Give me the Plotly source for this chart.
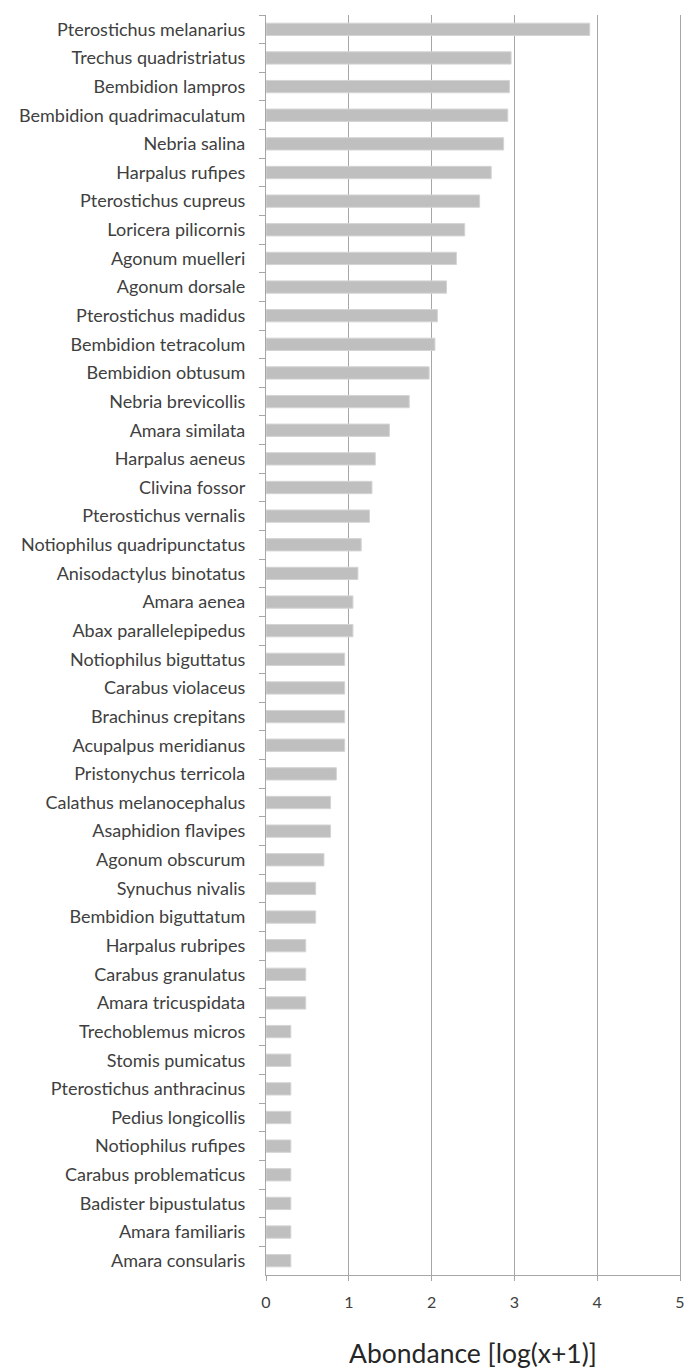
import plotly.graph_objects as go

species = [
    "Pterostichus melanarius", "Trechus quadristriatus", "Bembidion lampros",
    "Bembidion quadrimaculatum", "Nebria salina", "Harpalus rufipes",
    "Pterostichus cupreus", "Loricera pilicornis", "Agonum muelleri",
    "Agonum dorsale", "Pterostichus madidus", "Bembidion tetracolum",
    "Bembidion obtusum", "Nebria brevicollis", "Amara similata",
    "Harpalus aeneus", "Clivina fossor", "Pterostichus vernalis",
    "Notiophilus quadripunctatus", "Anisodactylus binotatus", "Amara aenea",
    "Abax parallelepipedus", "Notiophilus biguttatus", "Carabus violaceus",
    "Brachinus crepitans", "Acupalpus meridianus", "Pristonychus terricola",
    "Calathus melanocephalus", "Asaphidion flavipes", "Agonum obscurum",
    "Synuchus nivalis", "Bembidion biguttatum", "Harpalus rubripes",
    "Carabus granulatus", "Amara tricuspidata", "Trechoblemus micros",
    "Stomis pumicatus", "Pterostichus anthracinus", "Pedius longicollis",
    "Notiophilus rufipes", "Carabus problematicus", "Badister bipustulatus",
    "Amara familiaris", "Amara consularis",
]

abundance = [
    3.91, 2.96, 2.94, 2.92, 2.87, 2.72, 2.58, 2.40, 2.30, 2.18,
    2.07, 2.04, 1.97, 1.73, 1.49, 1.32, 1.28, 1.25, 1.15, 1.11,
    1.05, 1.05, 0.95, 0.95, 0.95, 0.95, 0.85, 0.78, 0.78, 0.70,
    0.60, 0.60, 0.48, 0.48, 0.48, 0.30, 0.30, 0.30, 0.30, 0.30,
    0.30, 0.30, 0.30, 0.30,
]

x_ticks = [0, 1, 2, 3, 4, 5]
x_title = "Abondance [log(x+1)]"

FONT = "Lato, 'Open Sans', sans-serif"
TXT = "#404040"
GRID = "#a6a6a6"

fig = go.Figure(go.Bar(
    x=abundance,
    y=species,
    orientation="h",
    marker=dict(color="#bfbfbf", line=dict(color="#d4d4d4", width=1)),
    hoverinfo="x+y",
))

fig.update_layout(
    width=684,
    height=1369,
    margin=dict(l=266, r=4, t=15, b=94, autoexpand=False),
    paper_bgcolor="white",
    plot_bgcolor="white",
    bargap=0.57,
    showlegend=False,
    font=dict(family=FONT, color=TXT),
)

fig.update_xaxes(
    range=[0, 5],
    tickmode="array",
    tickvals=x_ticks,
    ticktext=[str(t) for t in x_ticks],
    showgrid=True,
    gridcolor=GRID,
    gridwidth=1.3,
    zeroline=False,
    showline=True,
    linecolor=GRID,
    linewidth=1.3,
    ticks="outside",
    ticklen=5,
    tickcolor=GRID,
    ticklabelstandoff=8,
    ticklabeloverflow="allow",
    tickfont=dict(size=16, color=TXT, family=FONT),
    automargin=False,
    title=dict(text=x_title, font=dict(size=26.5, color="#262626", family=FONT), standoff=35),
)

fig.update_yaxes(
    type="category",
    autorange="reversed",
    showgrid=False,
    zeroline=False,
    showline=True,
    mirror=True,
    linecolor=GRID,
    linewidth=1.3,
    ticks="outside",
    tickson="boundaries",
    ticklen=6,
    tickcolor=GRID,
    automargin=False,
    tickfont=dict(size=18, color=TXT, family=FONT),
    ticklabelstandoff=16,
)

fig.write_html(
    "out.html",
    config={"displayModeBar": False},
    post_script="document.body.style.margin='0';document.body.style.overflow='hidden';",
)
